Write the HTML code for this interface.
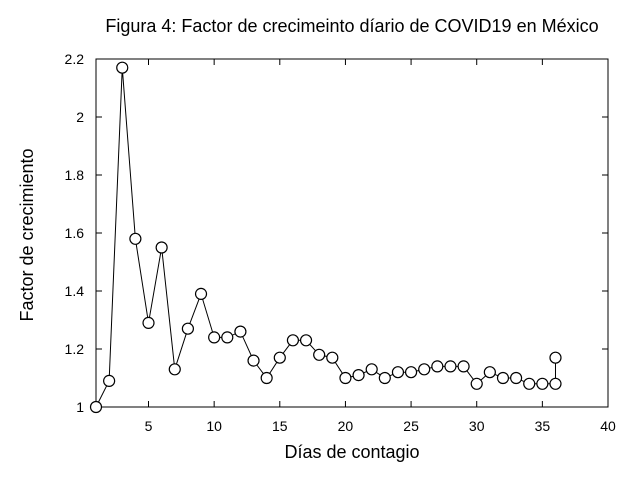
<!DOCTYPE html>
<html><head><meta charset="utf-8"><style>
body{margin:0;background:#fff;}
svg{display:block;font-family:"Liberation Sans",Arial,sans-serif;}
</style></head><body>
<svg id="s" width="640" height="480" xmlns="http://www.w3.org/2000/svg">
<rect width="640" height="480" fill="#fff"/>
<text x="352" y="32" font-size="18" text-anchor="middle">Figura 4: Factor de crecimeinto díario de COVID19 en México</text>
<rect x="96" y="59" width="512" height="348" fill="none" stroke="#000" stroke-width="1"/>
<text x="352" y="458" font-size="18" text-anchor="middle">Días de contagio</text>
<text transform="translate(33,235) rotate(-90)" font-size="18" text-anchor="middle">Factor de crecimiento</text>
<g id="g"></g>
</svg>
<script>
var g=document.getElementById('g');
function X(v){return 96+(v-1)*512/39;}
function Y(v){return 407-(v-1)*290;}
var h='';
[5,10,15,20,25,30,35,40].forEach(function(t){var x=X(t);
h+='<line x1="'+x+'" y1="407" x2="'+x+'" y2="401" stroke="#000"/><line x1="'+x+'" y1="59" x2="'+x+'" y2="65" stroke="#000"/>';
h+='<text x="'+x+'" y="431" font-size="14" text-anchor="middle">'+t+'</text>';});
[1,1.2,1.4,1.6,1.8,2,2.2].forEach(function(t){var y=Y(t);
h+='<line x1="96" y1="'+y+'" x2="102" y2="'+y+'" stroke="#000"/><line x1="608" y1="'+y+'" x2="602" y2="'+y+'" stroke="#000"/>';
h+='<text x="84" y="'+(y+5)+'" font-size="14" text-anchor="end">'+(t==1||t==2?t:t.toFixed(1))+'</text>';});
var d=[1,1.09,2.17,1.58,1.29,1.55,1.13,1.27,1.39,1.24,1.24,1.26,1.16,1.10,1.17,1.23,1.23,1.18,1.17,1.10,1.11,1.13,1.10,1.12,1.12,1.13,1.14,1.14,1.14,1.08,1.12,1.10,1.10,1.08,1.08,1.08];
var pts=d.map(function(v,i){return [X(i+1),Y(v)];});pts.push([X(36),Y(1.17)]);
h+='<polyline fill="none" stroke="#000" points="'+pts.map(function(p){return p[0]+','+p[1];}).join(' ')+'"/>';
pts.forEach(function(p){h+='<circle cx="'+p[0]+'" cy="'+p[1]+'" r="5.5" fill="#fff" stroke="#000" stroke-width="1.2"/>';});
g.innerHTML=h;
</script>
</body></html>
